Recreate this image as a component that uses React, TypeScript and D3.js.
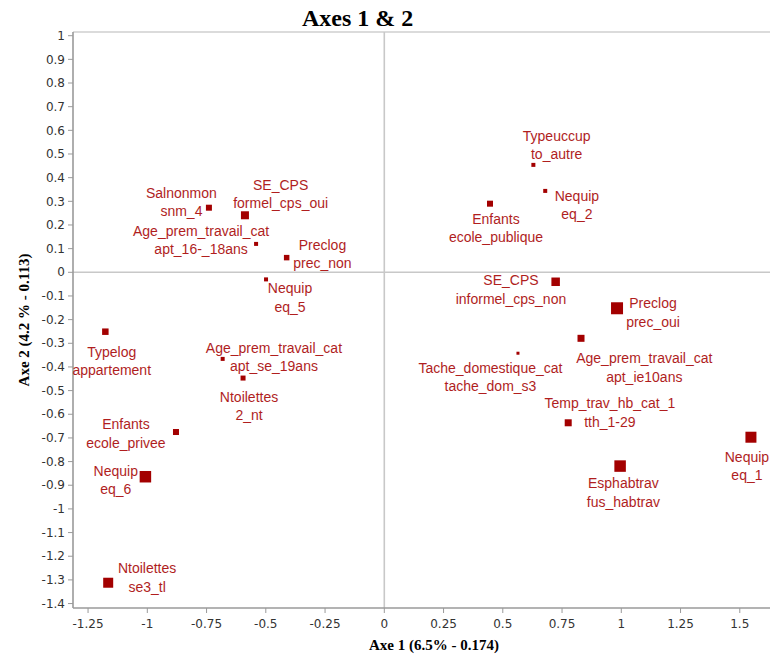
import React from "react";
import * as d3 from "d3";

// ---- Data ----
const variables = [
  "Salnonmon", "SE_CPS", "Age_prem_travail_cat", "Preclog", "Nequip",
  "Typelog", "Age_prem_travail_cat", "Ntoilettes", "Enfants", "Nequip",
  "Ntoilettes", "Typeuccup", "Nequip", "Enfants", "SE_CPS",
  "Preclog", "Age_prem_travail_cat", "Tache_domestique_cat", "Temp_trav_hb_cat_1", "Nequip",
  "Esphabtrav",
];
const categories = [
  "snm_4", "formel_cps_oui", "apt_16-_18ans", "prec_non", "eq_5",
  "appartement", "apt_se_19ans", "2_nt", "ecole_privee", "eq_6",
  "se3_tl", "to_autre", "eq_2", "ecole_publique", "informel_cps_non",
  "prec_oui", "apt_ie10ans", "tache_dom_s3", "tth_1-29", "eq_1",
  "fus_habtrav",
];
const axis1 = [
  -0.740, -0.588, -0.541, -0.412, -0.499,
  -1.177, -0.682, -0.596, -0.879, -1.008,
  -1.165, 0.629, 0.679, 0.446, 0.723,
  0.982, 0.830, 0.564, 0.776, 1.547,
  0.995,
];
const axis2 = [
  0.273, 0.241, 0.120, 0.062, -0.030,
  -0.251, -0.366, -0.447, -0.675, -0.864,
  -1.312, 0.454, 0.344, 0.290, -0.040,
  -0.152, -0.279, -0.342, -0.636, -0.697,
  -0.819,
];
const masses = [
  36, 64, 16, 30, 16,
  42, 16, 25, 36, 132,
  100, 16, 16, 36, 72,
  144, 49, 9, 49, 121,
  132,
];
const xTicks = [-1.25, -1, -0.75, -0.5, -0.25, 0, 0.25, 0.5, 0.75, 1, 1.25, 1.5];
const yTicks = [1, 0.9, 0.8, 0.7, 0.6, 0.5, 0.4, 0.3, 0.2, 0.1, 0, -0.1, -0.2, -0.3, -0.4, -0.5, -0.6, -0.7, -0.8, -0.9, -1, -1.1, -1.2, -1.3, -1.4];
const title = "Axes 1 & 2";
const xTitle = "Axe 1 (6.5% - 0.174)";
const yTitle = "Axe 2 (4.2 % - 0.113)";

// ---- Layout (label placement offsets relative to marker, px) ----
const labelDx = [
  -27.5, 35.7, -55, 35.8, 24,
  6.4, 51.3, 6, -50, -29.6,
  38.9, 23.3, 31.7, 6, -44.7,
  36, 63.3, -27.5, 41.7, -4,
  3.3,
];
const labelDy = [
  -15, -30.3, -13, -12.7, 9,
  20, -11.3, 18.7, -7.7, -6,
  -14.4, -29.3, 4.7, 15.3, -1.7,
  -5, 20, 14.4, -19.4, 19.4,
  17.3,
];

const W = 770;
const H = 656;
const left = 73;
const right = 783;
const top = 32;
const bottom = 608;

export default function App() {
  const x = d3.scaleLinear().domain([-1.3135, 1.6823]).range([left, right]);
  const y = d3.scaleLinear().domain([-1.4188, 1.0156]).range([bottom, top]);
  const side = d3.scaleSqrt().domain([0, 144]).range([0, 12]);

  const axisColor = "#9a9a9a";
  const tickFont = "'DejaVu Sans', Verdana, sans-serif";
  const labelFont = "'Liberation Sans', Arial, sans-serif";
  const serif = "'Liberation Serif', 'Times New Roman', serif";
  const lineGap = 18.5;

  return (
    <svg
      width={W}
      height={H}
      style={{ position: "absolute", left: 0, top: 0, background: "#fff" }}
    >
      <rect x={0} y={0} width={W} height={H} fill="#fff" />
      {/* Title */}
      <text x={302} y={26} fontFamily={serif} fontWeight="bold" fontSize={24} fill="#000">
        {title}
      </text>

      {/* Frame top */}
      <line x1={left} x2={W} y1={top} y2={top} stroke="#cfcfcf" strokeWidth={1.5} />

      {/* Zero lines */}
      <line x1={x(0)} x2={x(0)} y1={top} y2={bottom} stroke="#c8c8c8" strokeWidth={1.6} />
      <line x1={left} x2={W} y1={y(0)} y2={y(0)} stroke="#c8c8c8" strokeWidth={1.6} />

      {/* Y axis */}
      <line x1={left} x2={left} y1={top} y2={bottom} stroke={axisColor} strokeWidth={1.6} />
      {yTicks.map((t) => (
        <g key={"y" + t}>
          <line x1={left - 5} x2={left} y1={y(t)} y2={y(t)} stroke={axisColor} strokeWidth={1} />
          <text
            x={left - 8}
            y={y(t)}
            dy="0.35em"
            textAnchor="end"
            fontFamily={tickFont}
            fontSize={12}
            fill="#333"
          >
            {String(t)}
          </text>
        </g>
      ))}

      {/* X axis */}
      <line x1={left} x2={W} y1={bottom} y2={bottom} stroke={axisColor} strokeWidth={1.6} />
      {xTicks.map((t) => (
        <g key={"x" + t}>
          <line x1={x(t)} x2={x(t)} y1={bottom} y2={bottom + 5} stroke={axisColor} strokeWidth={1} />
          <text
            x={x(t)}
            y={bottom + 20}
            textAnchor="middle"
            fontFamily={tickFont}
            fontSize={12}
            fill="#333"
          >
            {String(t)}
          </text>
        </g>
      ))}

      {/* Axis titles */}
      <text
        x={(left + right) / 2 + 6}
        y={650}
        textAnchor="middle"
        fontFamily={serif}
        fontWeight="bold"
        fontSize={15}
        fill="#000"
      >
        {xTitle}
      </text>
      <text
        transform={`translate(29, ${(top + bottom) / 2}) rotate(-90)`}
        textAnchor="middle"
        fontFamily={serif}
        fontWeight="bold"
        fontSize={15}
        fill="#000"
      >
        {yTitle}
      </text>

      {/* Points */}
      {axis1.map((v, i) => {
        const cx = x(v);
        const cy = y(axis2[i]);
        const s = side(masses[i]);
        return (
          <g key={"p" + i}>
            <rect x={cx - s / 2} y={cy - s / 2} width={s} height={s} fill="#a30000" />
            <text
              x={cx + labelDx[i]}
              y={cy + labelDy[i] + 5}
              textAnchor="middle"
              fontFamily={labelFont}
              fontSize={14}
              fill="#b01e1e"
            >
              {variables[i]}
            </text>
            <text
              x={cx + labelDx[i]}
              y={cy + labelDy[i] + 5 + lineGap}
              textAnchor="middle"
              fontFamily={labelFont}
              fontSize={14}
              fill="#b01e1e"
            >
              {categories[i]}
            </text>
          </g>
        );
      })}
    </svg>
  );
}
